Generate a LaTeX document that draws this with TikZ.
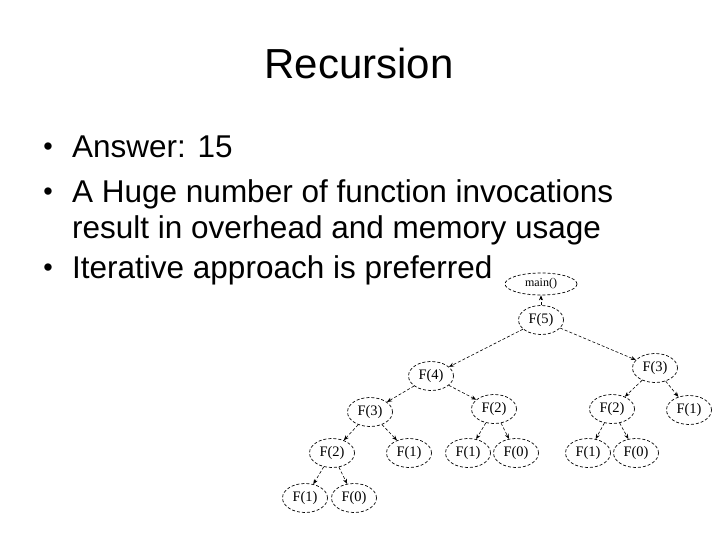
\documentclass[tikz,border=0pt]{standalone}
\usepackage{fontspec}
\setmainfont{Liberation Sans}
\newfontfamily\treefont{Liberation Serif}
\usepackage{tikz}
\usetikzlibrary{arrows.meta, shapes.geometric}

\begin{document}
\begin{tikzpicture}[
  x=1pt, y=-1pt,
  every node/.style={inner sep=0pt},
  heading/.style={font=\fontsize{42}{42}\selectfont, anchor=base},
  item/.style={font=\fontsize{31.5}{35}\selectfont, anchor=base west},
  dot/.style={font=\fontsize{27}{27}\selectfont, anchor=base},
  call/.style={draw, ellipse, dash pattern=on 3pt off 2pt, line width=0.7pt,
    minimum width=45pt, minimum height=29pt, font=\treefont\fontsize{14.5}{14.5}\selectfont},
  link/.style={dash pattern=on 3pt off 2pt, line width=0.6pt,
    -{Stealth[length=5pt, width=4pt]}}
]
  \useasboundingbox (0,0) rectangle (720,540);

  % slide text
  \node[heading] (title) at (359,79) {Recursion};
  \node[dot] (b1) at (48,156) {•};
  \node[item] (answer) at (72,158) {Answer: 15};
  \node[dot] (b2) at (48,201) {•};
  \node[item] (huge) at (72,203) {A Huge number of function invocations};
  \node[item] (huge2) at (72,238) {result in overhead and memory usage};
  \node[dot] (b3) at (48,276) {•};
  \node[item] (iter) at (72,278) {Iterative approach is preferred};

  % call tree
  \node[call, minimum width=72pt, minimum height=22pt,
    font=\treefont\fontsize{12}{12}\selectfont] (main) at (541,284) {main()};
  \foreach \nm/\px/\py/\lbl in {f5/541/320/F(5), f4/431/376/F(4), f3r/655/368/F(3),
      f3/370/412/F(3), f2m/494/409/F(2), f2r/612/409/F(2), f1r/689/410/F(1),
      f2/332/453/F(2), f1a/409/453/F(1), f1b/468/453/F(1), f0b/516/453/F(0),
      f1c/588/453/F(1), f0c/636/453/F(0), f1d/305/498/F(1), f0d/354/498/F(0)}
    \node[call] (\nm) at (\px,\py) {\lbl};

  \draw[link] (f5) -- (main);
  \foreach \a/\b in {f5/f4, f5/f3r, f4/f3, f4/f2m, f3r/f2r, f3r/f1r,
      f3/f2, f3/f1a, f2m/f1b, f2m/f0b, f2r/f1c, f2r/f0c, f2/f1d, f2/f0d}
    \draw[link] (\a) -- (\b);
\end{tikzpicture}
\end{document}
